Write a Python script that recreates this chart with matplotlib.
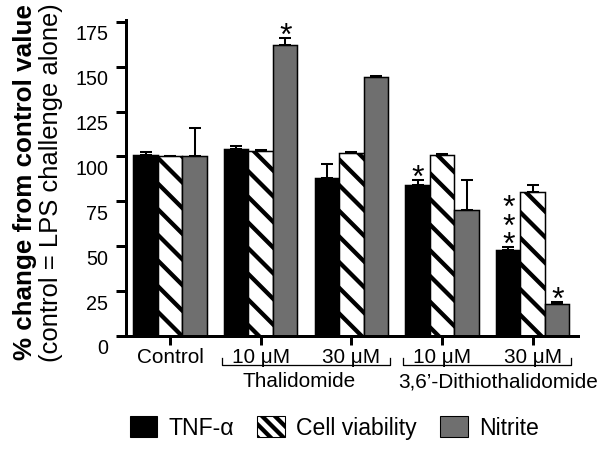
import numpy as np
import matplotlib
matplotlib.use('Agg')
import matplotlib.pyplot as plt
import matplotlib.transforms as mtransforms
from matplotlib.patches import Patch

# values (% of LPS-alone control)
groups = ['Control', '10 μM', '30 μM', '10 μM', '30 μM']
tnf = [101, 104, 88, 84, 48]
tnf_err = [1.5, 2, 8, 3, 1.5]
viability = [100, 103, 102, 101, 80]
viability_err = [0.5, 0.5, 0.5, 0.5, 4]
nitrite = [100, 162, 144, 70, 18]
nitrite_err = [16, 4, 1, 17, 1]
series_names = ['TNF-α', 'Cell viability', 'Nitrite']
drug_names = ['Thalidomide', '3,6\u2019-Dithiothalidomide']
# (series, group, number of stars)
stars = [(2, 1, 1), (0, 3, 1), (0, 4, 3), (2, 4, 1)]

DPI = 77
plt.rcParams['font.family'] = ['Liberation Sans', 'DejaVu Sans']
plt.rcParams['hatch.linewidth'] = 4.0

fig = plt.figure(figsize=(610 / DPI, 454 / DPI), dpi=DPI)
ax = fig.add_axes([126 / 610, 1 - 336 / 454, 452 / 610, 316 / 454])

gap = 3.7
xc = np.arange(len(groups)) * gap
values = [tnf, viability, nitrite]
errors = [tnf_err, viability_err, nitrite_err]
faces = ['black', 'white', '#6f6f6f']
hatches = [None, '\\', None]

for i in range(3):
    ax.bar(xc + (i - 1), values[i], width=1.0, color=faces[i], edgecolor='black',
           linewidth=1.4, hatch=hatches[i], zorder=2)
    ax.errorbar(xc + (i - 1), values[i], yerr=[np.zeros(len(groups)), errors[i]],
                fmt='none', ecolor='black', elinewidth=1.9, capsize=6, capthick=1.9, zorder=3)

for s, g, n in stars:
    top = values[s][g] + errors[s][g]
    ax.annotate('\n'.join(['*'] * n), xy=(xc[g] + s - 1, top), xytext=(0, -13),
                textcoords='offset points', ha='center', va='bottom',
                fontsize=30, linespacing=0.5, annotation_clip=False)

ax.set_xlim(-1.8, xc[-1] + 1.85)
ax.set_ylim(0, 176)
ax.set_yticks(np.arange(0, 176, 25))
ax.set_xticks(xc)
ax.set_xticklabels(groups)

for side in ['top', 'right']:
    ax.spines[side].set_visible(False)
for side in ['left', 'bottom']:
    ax.spines[side].set_linewidth(2.8)
ax.tick_params(axis='y', length=9.5, width=2.8, pad=7, labelsize=18.5)
ax.tick_params(axis='x', length=8.5, width=2.8, pad=3, labelsize=19.4)

shift = mtransforms.ScaledTranslation(0, -11 / DPI, fig.dpi_scale_trans)
for lab in ax.get_yticklabels():
    lab.set_transform(lab.get_transform() + shift)

# brackets under the two drugs
trans = mtransforms.blended_transform_factory(ax.transData, ax.transAxes)
label_x = [5.27, 13.37]
for d in range(2):
    x0 = xc[1 + 2 * d] - 1.58
    x1 = xc[2 + 2 * d] + 1.58
    ax.plot([x0, x0, x1, x1], [-0.069, -0.092, -0.092, -0.069], color='black',
            lw=1.2, transform=trans, clip_on=False)
    ax.text(label_x[d], -0.145, drug_names[d], transform=trans, ha='center',
            va='center', fontsize=19.4)

fig.text(25 / 610, 1 - 182 / 454, '% change from control value', rotation=90,
         ha='center', va='center', fontsize=24.3, fontweight='bold')
fig.text(51 / 610, 1 - 183 / 454, '(control = LPS challenge alone)', rotation=90,
         ha='center', va='center', fontsize=24)

handles = [Patch(facecolor='black', edgecolor='black'),
           Patch(facecolor='white', edgecolor='black', hatch='\\\\'),
           Patch(facecolor='#6f6f6f', edgecolor='black')]
fig.legend(handles, series_names, loc='center', bbox_to_anchor=(0.548, 1 - 428 / 454),
           ncol=3, frameon=False, fontsize=21.5, handlelength=1.2, handleheight=1.0,
           handletextpad=0.5, columnspacing=1.0, borderaxespad=0)

fig.savefig('out.png', dpi=DPI)
